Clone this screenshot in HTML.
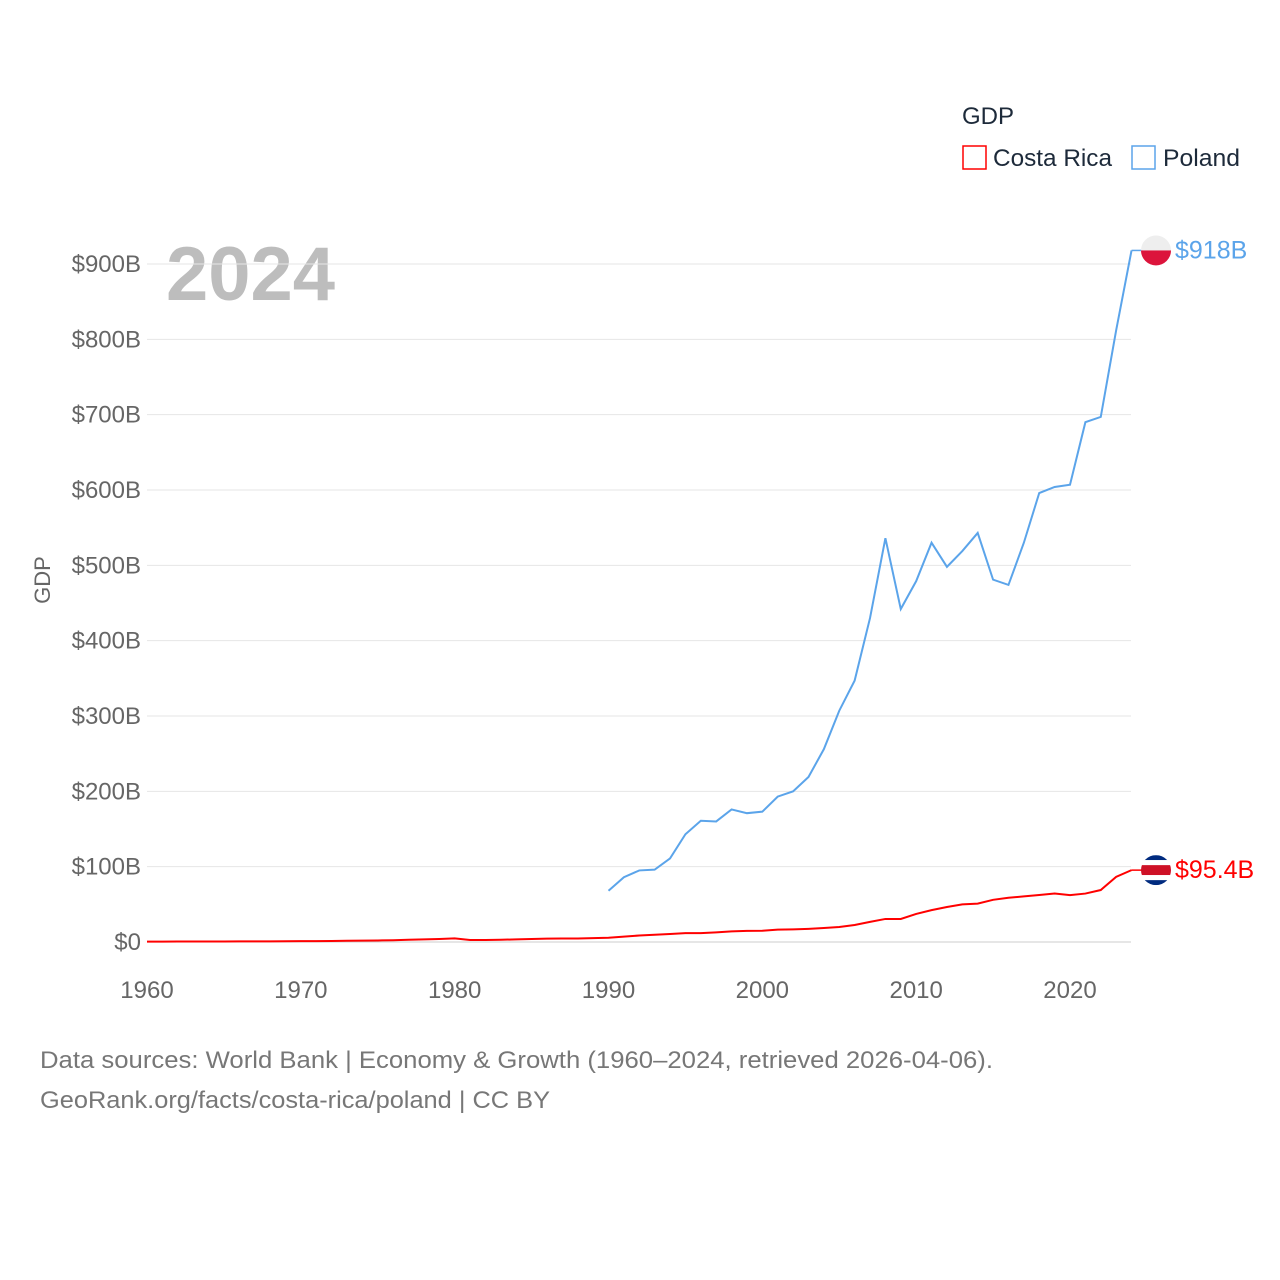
<!DOCTYPE html>
<html><head><meta charset="utf-8"><style>
body{margin:0;background:#fff;font-family:"Liberation Sans",sans-serif;}
svg{display:block}
</style></head><body>
<svg id="c" width="1280" height="1280">
<text x="962" y="124" font-size="24" fill="#1d2a3a">GDP</text>
<g><rect x="963" y="146" width="23" height="23" fill="none" stroke="#ff0000" stroke-width="1.5"/><text x="993" y="166" font-size="24" fill="#1d2a3a" textLength="119" lengthAdjust="spacingAndGlyphs">Costa Rica</text></g>
<g><rect x="1132" y="146" width="23" height="23" fill="none" stroke="#5ba4ea" stroke-width="1.5"/><text x="1163" y="166" font-size="24" fill="#1d2a3a" textLength="77" lengthAdjust="spacingAndGlyphs">Poland</text></g>
<text x="166" y="300" font-size="76" font-weight="bold" fill="#bdbdbd">2024</text>
<text transform="translate(50,580) rotate(-90)" text-anchor="middle" font-size="22" fill="#666">GDP</text>
<g id="grid"></g><g id="lines"></g>
<text x="40" y="1068" font-size="24" fill="#777" textLength="953" lengthAdjust="spacingAndGlyphs">Data sources: World Bank | Economy &amp; Growth (1960–2024, retrieved 2026-04-06).</text>
<text x="40" y="1108" font-size="24" fill="#777" textLength="510" lengthAdjust="spacingAndGlyphs">GeoRank.org/facts/costa-rica/poland | CC BY</text>
</svg>
<script>
const yTicks=[0,100,200,300,400,500,600,700,800,900];
const yTickLabels=["$0","$100B","$200B","$300B","$400B","$500B","$600B","$700B","$800B","$900B"];
const xTicks=[1960,1970,1980,1990,2000,2010,2020];
const polandYears=[1990,1991,1992,1993,1994,1995,1996,1997,1998,1999,2000,2001,2002,2003,2004,2005,2006,2007,2008,2009,2010,2011,2012,2013,2014,2015,2016,2017,2018,2019,2020,2021,2022,2023,2024];
const polandValues=[68,86,95,96,111,143,161,160,176,171,173,193,200,219,256,307,347,430,536,442,479,530,498,519,543,481,474,530,596,604,607,690,697,812,918];
const crYears=[];for(let y=1960;y<=2024;y++)crYears.push(y);
const crValues=[0.5,0.5,0.6,0.6,0.7,0.7,0.8,0.8,0.9,1.0,1.1,1.2,1.4,1.6,1.8,2.0,2.4,3.0,3.5,4.0,4.8,2.6,2.7,3.0,3.5,3.9,4.4,4.6,4.6,5.1,5.7,7.2,8.6,9.7,10.6,11.7,11.8,12.8,14.1,14.8,15.0,16.4,16.8,17.5,18.6,19.9,22.6,26.7,30.6,30.6,37.3,42.3,46.5,50.0,51.0,56.0,58.8,60.5,62.4,64.4,62.2,64.3,69.0,86.5,95.4];
const ns="http://www.w3.org/2000/svg";
const X=y=>147+(y-1960)*(1070-147)/60;
const Y=v=>942-v*(942-264)/900;
const grid=document.getElementById('grid'),lines=document.getElementById('lines');
function mk(t,a,p){const e=document.createElementNS(ns,t);for(const k in a)e.setAttribute(k,a[k]);p.appendChild(e);return e;}
yTicks.forEach((v,i)=>{
 const l=mk('line',{x1:147,x2:1131,y1:Y(v),y2:Y(v),stroke:i==0?'#ccc':'#e6e6e6','stroke-width':1},grid);
 
 
 const t=mk('text',{x:141,y:Y(v)+8,'text-anchor':'end','font-size':24,fill:'#666'},grid);t.textContent=yTickLabels[i];
 
 
});
xTicks.forEach(v=>{
 const t=mk('text',{x:X(v),y:998,'text-anchor':'middle','font-size':24,fill:'#666'},grid);t.textContent=v;
 
 
});
function line(xs,vs,col,name){
 const p=mk('path',{d:xs.map((x,i)=>(i?'L':'M')+X(x)+','+Y(vs[i])).join(''),fill:'none',stroke:col,'stroke-width':2},lines);
 
 
}
line(crYears,crValues,'#ff0000','costa-rica-line');
line(polandYears,polandValues,'#5ba4ea','poland-line');
const pv=polandValues[polandValues.length-1],cv=crValues[crValues.length-1];
mk('line',{x1:X(2024),x2:1143,y1:Y(pv),y2:Y(pv),stroke:'#5ba4ea','stroke-width':1.5},lines);
mk('line',{x1:X(2024),x2:1143,y1:Y(cv),y2:Y(cv),stroke:'#ff0000','stroke-width':1.5},lines);
const pf=mk('g',{},lines);
mk('clipPath',{id:'cp1'},pf);mk('circle',{cx:1156,cy:Y(pv),r:15},pf.lastChild);
mk('rect',{x:1141,y:Y(pv)-15,width:30,height:15,fill:'#eeeeee','clip-path':'url(#cp1)'},pf);
mk('rect',{x:1141,y:Y(pv),width:30,height:15,fill:'#dc143c','clip-path':'url(#cp1)'},pf);
const cf=mk('g',{},lines);
mk('clipPath',{id:'cp2'},cf);mk('circle',{cx:1156,cy:Y(cv),r:15},cf.lastChild);
[['#002b7f',-15,5],['#fff',-10,5],['#ce1126',-5,10],['#fff',5,5],['#002b7f',10,5]].forEach(s=>mk('rect',{x:1141,y:Y(cv)+s[1],width:30,height:s[2],fill:s[0],'clip-path':'url(#cp2)'},cf));
const t1=mk('text',{x:1175,y:Y(pv)+8,'font-size':25,fill:'#5ba4ea'},lines);t1.textContent='$'+pv+'B';


const t2=mk('text',{x:1175,y:Y(cv)+8,'font-size':25,fill:'#ff0000'},lines);t2.textContent='$'+cv+'B';


</script>
</body></html>
